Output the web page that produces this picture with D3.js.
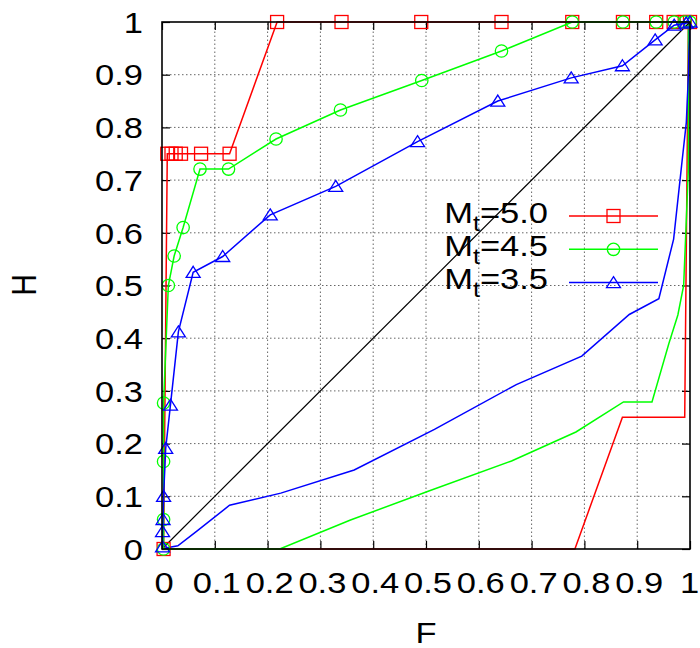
<!DOCTYPE html>
<html><head><meta charset="utf-8">
<script src="https://cdn.jsdelivr.net/npm/d3@7"></script>
<style>
body{margin:0;background:#fff;}
svg text{font-family:"Liberation Sans",Arial,Helvetica,sans-serif;fill:#000;}
</style></head>
<body>
<svg id="chart" width="700" height="648"></svg>
<script>
// ----- data -----
const xTickVals = [0,0.1,0.2,0.3,0.4,0.5,0.6,0.7,0.8,0.9,1];
const xTickLabels = ["0","0.1","0.2","0.3","0.4","0.5","0.6","0.7","0.8","0.9","1"];
const yTickVals = [0,0.1,0.2,0.3,0.4,0.5,0.6,0.7,0.8,0.9,1];
const yTickLabels = ["0","0.1","0.2","0.3","0.4","0.5","0.6","0.7","0.8","0.9","1"];
const seriesNames = ["5.0","4.5","3.5"];
const seriesColors = ["#ff0000","#00ff00","#0000ff"];

// Mt=5.0 (with markers)
const mt50F = [0.003,0.010,0.018,0.026,0.036,0.074,0.128,0.218,0.340,0.491,0.643,0.777,0.873,0.936,0.969,0.990,1];
const mt50H = [0,0.75,0.75,0.75,0.75,0.75,0.75,1,1,1,1,1,1,1,1,1,1];
// Mt=5.0 lower curve (line only)
const mt50LowF = [0,0.010,0.031,0.064,0.127,0.223,0.357,0.509,0.660,0.782,0.872,0.926,0.964,0.974,0.982,0.990,0.997];
const mt50LowH = [0,0,0,0,0,0,0,0,0,0,0.25,0.25,0.25,0.25,0.25,0.25,1];

// Mt=4.5
const mt45F = [0.003,0.003,0.003,0.003,0.012,0.023,0.040,0.072,0.126,0.216,0.338,0.492,0.643,0.777,0.873,0.936,0.970,0.990,1];
const mt45H = [0,0.056,0.166,0.277,0.5,0.556,0.61,0.721,0.721,0.778,0.833,0.889,0.945,1,1,1,1,1,1];
const mt45LowF = [0,0.010,0.030,0.064,0.127,0.223,0.357,0.508,0.662,0.784,0.874,0.928,0.960,0.977,0.988,0.997,0.997,0.997,0.997];
const mt45LowH = [0,0,0,0,0,0,0.055,0.111,0.167,0.222,0.279,0.279,0.39,0.444,0.5,0.723,0.834,0.944,1];

// Mt=3.5
const mt35F = [0.001,0.001,0.002,0.003,0.007,0.016,0.031,0.059,0.115,0.205,0.329,0.484,0.636,0.775,0.872,0.934,0.970,0.993,1];
const mt35H = [0.004,0.033,0.056,0.1,0.191,0.273,0.412,0.525,0.555,0.634,0.688,0.773,0.850,0.894,0.917,0.966,0.994,0.998,1];
const mt35LowF = [0,0.007,0.030,0.066,0.128,0.225,0.364,0.516,0.671,0.795,0.885,0.941,0.969,0.984,0.993,0.997,0.998,0.999,0.999];
const mt35LowH = [0,0.002,0.006,0.034,0.083,0.106,0.150,0.227,0.312,0.366,0.445,0.475,0.588,0.727,0.809,0.9,0.944,0.967,0.996];

const diagF = [0,1];
const diagH = [0,1];

// ----- drawing -----
const svg = d3.select("#chart");
const L = 162, R = 690, T = 22, B = 549;
const SX = 1.15; // horizontal glyph stretch seen in reference
const x = d3.scaleLinear().domain([0,1]).range([L,R]);
const y = d3.scaleLinear().domain([0,1]).range([B,T]);

// grid
const grid = svg.append("g");
xTickVals.filter(v => v > 0 && v < 1).forEach(v => {
  grid.append("line").attr("x1",x(v)).attr("x2",x(v)).attr("y1",y(0)).attr("y2",y(1))
    .attr("stroke","#666").attr("stroke-width",1).attr("stroke-dasharray","1.5,2.5");
});
yTickVals.filter(v => v > 0 && v < 1).forEach(v => {
  grid.append("line").attr("x1",x(0)).attr("x2",x(1)).attr("y1",y(v)).attr("y2",y(v))
    .attr("stroke","#666").attr("stroke-width",1).attr("stroke-dasharray","1.5,2.5");
});

// axes (inward ticks, mirrored)
const tl = 8;
const axB = d3.axisBottom(x).tickValues(xTickVals).tickSize(-tl).tickFormat("");
const axT = d3.axisTop(x).tickValues(xTickVals).tickSize(-tl).tickFormat("");
const axL = d3.axisLeft(y).tickValues(yTickVals).tickSize(-tl).tickFormat("");
const axR = d3.axisRight(y).tickValues(yTickVals).tickSize(-tl).tickFormat("");
[[axB,`translate(0,${B})`],[axT,`translate(0,${T})`],[axL,`translate(${L},0)`],[axR,`translate(${R},0)`]].forEach(([a,t]) => {
  const g = svg.append("g").attr("transform",t).call(a);
  g.select(".domain").remove();
  g.selectAll("line").attr("stroke","#000").attr("stroke-width",1.2);
});

// tick labels
svg.append("g").selectAll("text").data(xTickVals).join("text")
  .attr("transform",(d)=>`translate(${Math.min(x(d)+2, 689.5)},593) scale(${SX},1)`)
  .attr("text-anchor","middle").attr("font-size",30)
  .text((d,i)=>xTickLabels[i]);
svg.append("g").selectAll("text").data(yTickVals).join("text")
  .attr("transform",(d)=>`translate(143,${y(d)+10.7}) scale(${SX},1)`)
  .attr("text-anchor","end").attr("font-size",30)
  .text((d,i)=>yTickLabels[i]);

// axis titles
svg.append("text").attr("transform",`translate(426,643) scale(${SX},1)`).attr("text-anchor","middle").attr("font-size",30).text("F");
svg.append("text").attr("transform",`translate(36,285) scale(${SX},1) rotate(-90)`).attr("text-anchor","middle").attr("font-size",30).text("H");

const zip = (a,b) => a.map((v,i)=>[v,b[i]]);
const line = d3.line().x(d=>x(d[0])).y(d=>y(d[1]));

const plot = svg.append("g");
// lower curves
[[mt50LowF,mt50LowH],[mt45LowF,mt45LowH],[mt35LowF,mt35LowH]].forEach(([f,h],i)=>{
  plot.append("path").attr("d",line(zip(f,h))).attr("fill","none")
    .attr("stroke",seriesColors[i]).attr("stroke-width",1.5);
});
// diagonal
plot.append("path").attr("d",line(zip(diagF,diagH))).attr("fill","none").attr("stroke","#000").attr("stroke-width",1.2);

function marker(g, kind, cx, cy, color){
  if(kind===0){
    g.append("rect").attr("x",cx-6.5).attr("y",cy-6.5).attr("width",13).attr("height",13)
      .attr("fill","none").attr("stroke",color).attr("stroke-width",1.3);
  } else if(kind===1){
    g.append("circle").attr("cx",cx).attr("cy",cy).attr("r",6.2)
      .attr("fill","none").attr("stroke",color).attr("stroke-width",1.3);
  } else {
    g.append("path").attr("d",`M${cx},${cy-6}L${cx+7},${cy+5}L${cx-7},${cy+5}Z`)
      .attr("fill","none").attr("stroke",color).attr("stroke-width",1.3);
  }
}

const upper = [[mt50F,mt50H],[mt45F,mt45H],[mt35F,mt35H]];
upper.forEach(([f,h],i)=>{
  const pts = zip(f,h);
  plot.append("path").attr("d",line(pts)).attr("fill","none")
    .attr("stroke",seriesColors[i]).attr("stroke-width",1.5);
  const mg = plot.append("g");
  pts.forEach(p=>marker(mg,i,x(p[0]),y(p[1]),seriesColors[i]));
});

// border
svg.append("rect").attr("x",L).attr("y",T).attr("width",R-L).attr("height",B-T)
  .attr("fill","none").attr("stroke","#000").attr("stroke-width",1.6);

// legend
const leg = svg.append("g");
seriesNames.forEach((n,i)=>{
  const ly = 216 + i*33.3;
  const t = leg.append("text").attr("transform",`translate(548,${ly+6.7}) scale(${SX},1)`)
    .attr("text-anchor","end").attr("font-size",30);
  t.append("tspan").text("M");
  t.append("tspan").attr("dy",8).attr("font-size",22).text("t");
  t.append("tspan").attr("dy",-8).text("="+n);
  leg.append("line").attr("x1",569).attr("x2",658).attr("y1",ly).attr("y2",ly)
    .attr("stroke",seriesColors[i]).attr("stroke-width",1.5);
  marker(leg,i,613.5,ly,seriesColors[i]);
});
</script>
</body></html>
